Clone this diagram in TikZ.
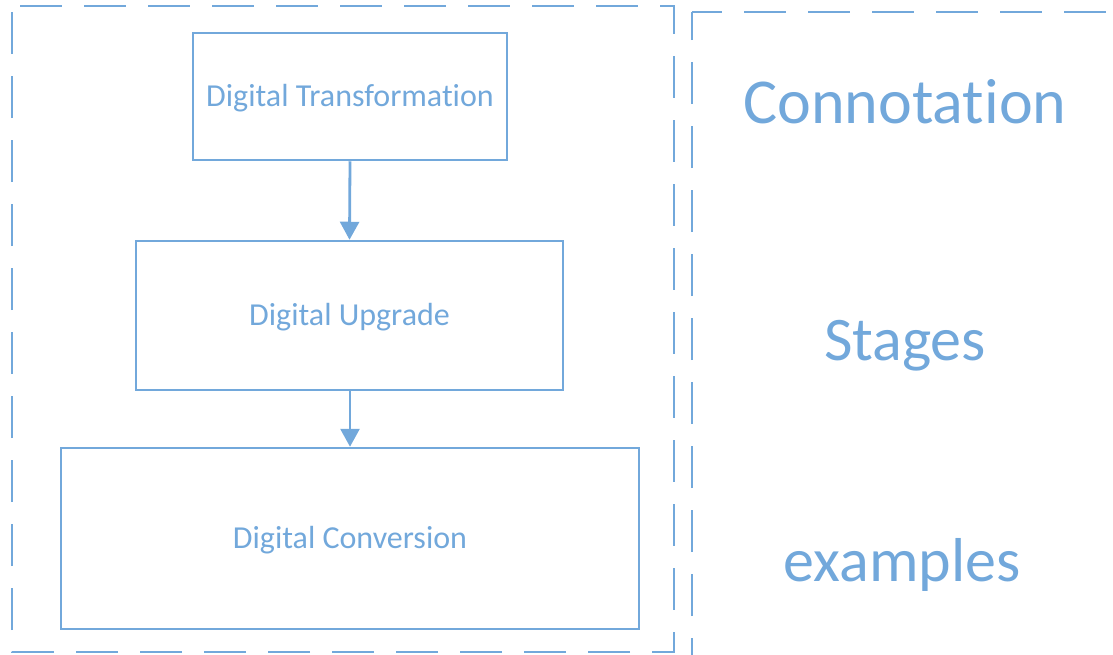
\documentclass[tikz,border=0pt]{standalone}
\usepackage{fontspec}
\setmainfont{Carlito}[RawFeature={-liga;-clig;-calt;-dlig}]
\usetikzlibrary{arrows.meta}
\definecolor{stageblue}{RGB}{114,168,219}
\tikzset{
  stagebox/.style={draw=stageblue, line width=2.5pt, text=stageblue,
    font=\fontsize{32}{36}\selectfont, inner sep=0pt,
    text height=19pt, text depth=0pt},
  sidelabel/.style={text=stageblue, font=\fontsize{62}{70}\selectfont,
    anchor=base, inner sep=0pt},
  framedash/.style={draw=stageblue, line width=2.2pt,
    dash pattern=on 42pt off 22pt},
  stagearrow/.style={draw=stageblue, line width=2.8pt,
    -{Triangle[length=18pt,width=19pt]}}
}

\begin{document}
\begin{tikzpicture}[x=1pt,y=-1pt]
  \useasboundingbox (0,0) rectangle (1113,654);
  \clip (0,0) rectangle (1113,654);

  % dashed frames
  \draw[framedash, dash phase=56pt] (12,6) -- (674,6) -- (674,652) -- (12,652) -- cycle;
  \draw[framedash, dash phase=12pt] (692,12) -- (1130,12) -- (1130,670) -- (692,670) -- cycle;

  % stage boxes
  \node[stagebox, minimum width=314pt, minimum height=127pt] (transform) at (350,96.5) {Digital Transformation};
  \node[stagebox, minimum width=427pt, minimum height=149pt] (upgrade) at (349.5,315.5) {Digital Upgrade};
  \node[stagebox, minimum width=578pt, minimum height=181pt] (conversion) at (350,538.5) {Digital Conversion};

  % arrows between stages
  \draw[stagearrow] (transform.south) -- (upgrade.north);
  \draw[stagearrow] (upgrade.south -| transform.south) -- (conversion.north);

  % labels on the right
  \node[sidelabel, font=\fontsize{64}{72}\selectfont] (connotation) at (905,123) {Connotation};
  \node[sidelabel] (stages) at (905,360) {Stages};
  \node[sidelabel] (examples) at (902,581) {examples};
\end{tikzpicture}
\end{document}
